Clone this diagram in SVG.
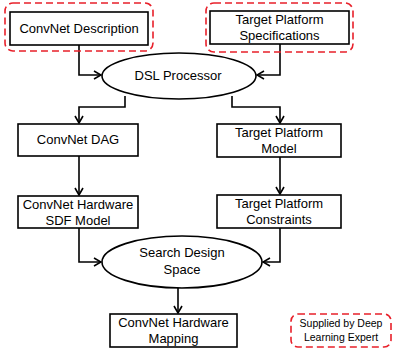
<svg xmlns="http://www.w3.org/2000/svg" width="393" height="358" viewBox="0 0 393 358">
<defs>
<style>
.box{fill:#fff;stroke:#000;stroke-width:1.6}
.ell{fill:#fff;stroke:#000;stroke-width:1.6}
.red{fill:none;stroke:#e8202a;stroke-width:1.6;stroke-dasharray:7,4}
.t{font-family:"Liberation Sans",Arial,sans-serif;font-size:13px;fill:#000;text-anchor:middle}
.s{font-size:10.5px}
.c{fill:none;stroke:#000;stroke-width:1.6;marker-end:url(#ah)}
</style>
<marker id="ah" viewBox="0 0 10 10" refX="9" refY="5" markerWidth="10" markerHeight="10" markerUnits="userSpaceOnUse" orient="auto">
<polyline points="2,1 9,5 2,9" fill="none" stroke="#000" stroke-width="1.6"/>
</marker>
</defs>
<rect width="393" height="358" fill="#fff"/>
<g id="connectors">
<polyline class="c" points="79,45 79,75 101,75"/>
<polyline class="c" points="280,44 280,75 257,75"/>
<polyline class="c" points="125,96 125,107 79,107 79,123"/>
<polyline class="c" points="232,96 232,107 280,107 280,123"/>
<polyline class="c" points="79,156 79,195"/>
<polyline class="c" points="280,157 280,194"/>
<polyline class="c" points="79,228 79,262 101,262"/>
<polyline class="c" points="280,228 280,262 263,262"/>
<polyline class="c" points="178,288 178,313"/>
</g>
<g id="convnet-description">
<rect class="red" x="5" y="3" width="148" height="48" rx="8"/>
<rect class="box" x="10" y="12" width="138" height="33"/>
<text class="t" x="79" y="33">ConvNet Description</text>
</g>
<g id="target-platform-specifications">
<rect class="red" x="206" y="3" width="147" height="49" rx="8"/>
<rect class="box" x="210" y="11" width="139" height="33"/>
<text class="t" x="279.5" y="24">Target Platform</text>
<text class="t" x="279.5" y="40">Specifications</text>
</g>
<g id="dsl-processor">
<ellipse class="ell" cx="179" cy="76" rx="77" ry="23"/>
<text class="t" x="178" y="80">DSL Processor</text>
</g>
<g id="convnet-dag">
<rect class="box" x="18" y="124" width="120" height="32"/>
<text class="t" x="78" y="144">ConvNet DAG</text>
</g>
<g id="target-platform-model">
<rect class="box" x="217" y="124" width="124" height="33"/>
<text class="t" x="279" y="137">Target Platform</text>
<text class="t" x="279" y="153">Model</text>
</g>
<g id="convnet-hardware-sdf-model">
<rect class="box" x="18" y="196" width="120" height="32"/>
<text class="t" x="78" y="209">ConvNet Hardware</text>
<text class="t" x="78" y="225">SDF Model</text>
</g>
<g id="target-platform-constraints">
<rect class="box" x="217" y="195" width="124" height="33"/>
<text class="t" x="279" y="208">Target Platform</text>
<text class="t" x="279" y="224">Constraints</text>
</g>
<g id="search-design-space">
<ellipse class="ell" cx="182" cy="262" rx="80" ry="26"/>
<text class="t" x="182" y="257">Search Design</text>
<text class="t" x="182" y="274">Space</text>
</g>
<g id="convnet-hardware-mapping">
<rect class="box" x="110" y="314" width="127" height="33"/>
<text class="t" x="173.5" y="327">ConvNet Hardware</text>
<text class="t" x="173.5" y="343">Mapping</text>
</g>
<g id="legend">
<rect class="red" x="291" y="314" width="100" height="33" rx="7"/>
<text class="t s" x="341" y="327">Supplied by Deep</text>
<text class="t s" x="341" y="341">Learning Expert</text>
</g>
</svg>
